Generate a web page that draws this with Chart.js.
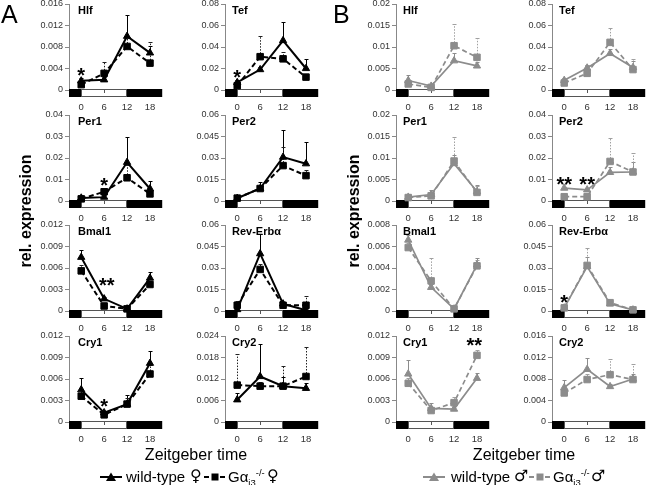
<!DOCTYPE html>
<html><head><meta charset="utf-8">
<script src="https://cdn.jsdelivr.net/npm/chart.js@4"></script>
<style>
body{margin:0;background:#fff;width:650px;height:485px;overflow:hidden;position:relative;font-family:Arial,"Liberation Sans",sans-serif;color:#000}
canvas{position:absolute}
.abs{position:absolute;white-space:nowrap}
</style></head><body>
<script>
// ---------- DATA ----------
const hours = [0, 6, 12, 18];

// Panel A (female) — wild-type vs Gαi3-/-
const hlfA_ticks = [0, 0.004, 0.008, 0.012, 0.016];
const hlfA_wt = [0.0017, 0.0019, 0.0100, 0.0069];
const hlfA_wtErr = [0.0005, 0.0005, 0.0039, 0.0012];
const hlfA_ko = [0.0010, 0.0031, 0.0081, 0.0050];
const hlfA_koErr = [0.0004, 0.0022, 0.0020, 0.0039];
const hlfA_stars = [[0, 0.0036, '*']];

const tefA_ticks = [0, 0.02, 0.04, 0.06, 0.08];
const tefA_wt = [0.007, 0.019, 0.046, 0.020];
const tefA_wtErr = [0.002, 0.002, 0.017, 0.009];
const tefA_ko = [0.004, 0.031, 0.029, 0.012];
const tefA_koErr = [0.002, 0.019, 0.006, 0.003];
const tefA_stars = [[0, 0.0165, '*']];

const per1A_ticks = [0, 0.01, 0.02, 0.03, 0.04];
const per1A_wt = [0.0014, 0.0018, 0.0180, 0.0057];
const per1A_wtErr = [0.0006, 0.0008, 0.0117, 0.0037];
const per1A_ko = [0.0010, 0.0043, 0.0108, 0.0033];
const per1A_koErr = [0.0003, 0.0010, 0.0060, 0.0015];
const per1A_stars = [[6, 0.0095, '*']];

const per2A_ticks = [0, 0.015, 0.03, 0.045, 0.06];
const per2A_wt = [0.0019, 0.0087, 0.0306, 0.0260];
const per2A_wtErr = [0.0008, 0.0045, 0.0189, 0.0150];
const per2A_ko = [0.0020, 0.0087, 0.0247, 0.0177];
const per2A_koErr = [0.0005, 0.0020, 0.0130, 0.0040];
const per2A_stars = [];

const bmal1A_ticks = [0, 0.003, 0.006, 0.009, 0.012];
const bmal1A_wt = [0.0075, 0.0017, 0.0003, 0.0046];
const bmal1A_wtErr = [0.0010, 0.0003, 0.0002, 0.0009];
const bmal1A_ko = [0.0056, 0.0007, 0.0003, 0.0037];
const bmal1A_koErr = [0.0008, 0.0002, 0.0001, 0.0005];
const bmal1A_stars = [[6.7, 0.0042, '**']];

const revA_ticks = [0, 0.015, 0.03, 0.045, 0.06];
const revA_wt = [0.0010, 0.0400, 0.0050, 0.0005];
const revA_wtErr = [0.0010, 0.0135, 0.0010, 0.0005];
const revA_ko = [0.0040, 0.0290, 0.0040, 0.0040];
const revA_koErr = [0.0030, 0.0040, 0.0010, 0.0065];
const revA_stars = [];

const cry1A_ticks = [0, 0.003, 0.006, 0.009, 0.012];
const cry1A_wt = [0.0045, 0.0013, 0.0025, 0.0082];
const cry1A_wtErr = [0.0017, 0.0003, 0.0013, 0.0017];
const cry1A_ko = [0.0036, 0.0010, 0.0025, 0.0067];
const cry1A_koErr = [0.0008, 0.0002, 0.0008, 0.0012];
const cry1A_stars = [[6, 0.0028, '*']];

const cry2A_ticks = [0, 0.006, 0.012, 0.018, 0.024];
const cry2A_wt = [0.0062, 0.0127, 0.0100, 0.0094];
const cry2A_wtErr = [0.0020, 0.0090, 0.0025, 0.0016];
const cry2A_ko = [0.0103, 0.0100, 0.0100, 0.0127];
const cry2A_koErr = [0.0086, 0.0012, 0.0055, 0.0082];
const cry2A_stars = [];

// Panel B (male)
const hlfB_ticks = [0, 0.005, 0.01, 0.015, 0.02];
const hlfB_wt = [0.0022, 0.0009, 0.0068, 0.0056];
const hlfB_wtErr = [0.0012, 0.0003, 0.0019, 0.0008];
const hlfB_ko = [0.0014, 0.0006, 0.0103, 0.0076];
const hlfB_koErr = [0.0008, 0.0003, 0.0051, 0.0044];
const hlfB_stars = [];

const tefB_ticks = [0, 0.02, 0.04, 0.06, 0.08];
const tefB_wt = [0.0090, 0.0205, 0.0340, 0.0210];
const tefB_wtErr = [0.0020, 0.0030, 0.0040, 0.0060];
const tefB_ko = [0.0065, 0.0155, 0.0443, 0.0190];
const tefB_koErr = [0.0020, 0.0075, 0.0130, 0.0100];
const tefB_stars = [];

const per1B_ticks = [0, 0.005, 0.01, 0.015, 0.02];
const per1B_wt = [0.0009, 0.0015, 0.0087, 0.0022];
const per1B_wtErr = [0.0007, 0.0010, 0.0020, 0.0015];
const per1B_ko = [0.0008, 0.0012, 0.0093, 0.0020];
const per1B_koErr = [0.0005, 0.0008, 0.0057, 0.0015];
const per1B_stars = [];

const per2B_ticks = [0, 0.01, 0.02, 0.03, 0.04];
const per2B_wt = [0.0060, 0.0052, 0.0133, 0.0135];
const per2B_wtErr = [0.0018, 0.0010, 0.0027, 0.0045];
const per2B_ko = [0.0020, 0.0020, 0.0184, 0.0135];
const per2B_koErr = [0.0005, 0.0005, 0.0110, 0.0088];
const per2B_stars = [[0, 0.0100, '**'], [6, 0.0100, '**']];

const bmal1B_ticks = [0, 0.002, 0.004, 0.006, 0.008];
const bmal1B_wt = [0.0066, 0.0022, 0.0002, 0.0043];
const bmal1B_wtErr = [0.0005, 0.0003, 0.0001, 0.0006];
const bmal1B_ko = [0.0059, 0.0028, 0.0002, 0.0042];
const bmal1B_koErr = [0.0004, 0.0021, 0.0001, 0.0005];
const bmal1B_stars = [];

const revB_ticks = [0, 0.015, 0.03, 0.045, 0.06];
const revB_wt = [0.0022, 0.0310, 0.0050, 0.0008];
const revB_wtErr = [0.0010, 0.0070, 0.0010, 0.0003];
const revB_ko = [0.0022, 0.0318, 0.0058, 0.0008];
const revB_koErr = [0.0010, 0.0125, 0.0010, 0.0003];
const revB_stars = [[0, 0.0092, '*']];

const cry1B_ticks = [0, 0.003, 0.006, 0.009, 0.012];
const cry1B_wt = [0.0067, 0.0019, 0.0018, 0.0061];
const cry1B_wtErr = [0.0020, 0.0008, 0.0004, 0.0007];
const cry1B_ko = [0.0054, 0.0016, 0.0027, 0.0093];
const cry1B_koErr = [0.0008, 0.0004, 0.0008, 0.0007];
const cry1B_stars = [[17.3, 0.0113, '**']];

const cry2B_ticks = [0, 0.004, 0.008, 0.012, 0.016];
const cry2B_wt = [0.0064, 0.0098, 0.0066, 0.0080];
const cry2B_wtErr = [0.0015, 0.0022, 0.0005, 0.0010];
const cry2B_ko = [0.0054, 0.0079, 0.0088, 0.0079];
const cry2B_koErr = [0.0008, 0.0010, 0.0030, 0.0029];
const cry2B_stars = [];

// ---------- LAYOUT ----------
const FF = 'Arial, "Liberation Sans", sans-serif';
const colX = [69, 225, 396, 552];
const rowZero = [90, 201, 311, 422];
const PW = 95, PH = 86, PADT = 10, PADR = 4, YW = 48, XH = 26;

const panels = [
  {title:'Hlf', g:'A', col:0, row:0, ticks:hlfA_ticks, wt:hlfA_wt, wtErr:hlfA_wtErr, ko:hlfA_ko, koErr:hlfA_koErr, stars:hlfA_stars},
  {title:'Tef', g:'A', col:1, row:0, ticks:tefA_ticks, wt:tefA_wt, wtErr:tefA_wtErr, ko:tefA_ko, koErr:tefA_koErr, stars:tefA_stars},
  {title:'Per1', g:'A', col:0, row:1, ticks:per1A_ticks, wt:per1A_wt, wtErr:per1A_wtErr, ko:per1A_ko, koErr:per1A_koErr, stars:per1A_stars},
  {title:'Per2', g:'A', col:1, row:1, ticks:per2A_ticks, wt:per2A_wt, wtErr:per2A_wtErr, ko:per2A_ko, koErr:per2A_koErr, stars:per2A_stars},
  {title:'Bmal1', g:'A', col:0, row:2, ticks:bmal1A_ticks, wt:bmal1A_wt, wtErr:bmal1A_wtErr, ko:bmal1A_ko, koErr:bmal1A_koErr, stars:bmal1A_stars},
  {title:'Rev-Erbα', g:'A', col:1, row:2, ticks:revA_ticks, wt:revA_wt, wtErr:revA_wtErr, ko:revA_ko, koErr:revA_koErr, stars:revA_stars},
  {title:'Cry1', g:'A', col:0, row:3, ticks:cry1A_ticks, wt:cry1A_wt, wtErr:cry1A_wtErr, ko:cry1A_ko, koErr:cry1A_koErr, stars:cry1A_stars},
  {title:'Cry2', g:'A', col:1, row:3, ticks:cry2A_ticks, wt:cry2A_wt, wtErr:cry2A_wtErr, ko:cry2A_ko, koErr:cry2A_koErr, stars:cry2A_stars},
  {title:'Hlf', g:'B', col:2, row:0, ticks:hlfB_ticks, wt:hlfB_wt, wtErr:hlfB_wtErr, ko:hlfB_ko, koErr:hlfB_koErr, stars:hlfB_stars},
  {title:'Tef', g:'B', col:3, row:0, ticks:tefB_ticks, wt:tefB_wt, wtErr:tefB_wtErr, ko:tefB_ko, koErr:tefB_koErr, stars:tefB_stars},
  {title:'Per1', g:'B', col:2, row:1, ticks:per1B_ticks, wt:per1B_wt, wtErr:per1B_wtErr, ko:per1B_ko, koErr:per1B_koErr, stars:per1B_stars},
  {title:'Per2', g:'B', col:3, row:1, ticks:per2B_ticks, wt:per2B_wt, wtErr:per2B_wtErr, ko:per2B_ko, koErr:per2B_koErr, stars:per2B_stars},
  {title:'Bmal1', g:'B', col:2, row:2, ticks:bmal1B_ticks, wt:bmal1B_wt, wtErr:bmal1B_wtErr, ko:bmal1B_ko, koErr:bmal1B_koErr, stars:bmal1B_stars},
  {title:'Rev-Erbα', g:'B', col:3, row:2, ticks:revB_ticks, wt:revB_wt, wtErr:revB_wtErr, ko:revB_ko, koErr:revB_koErr, stars:revB_stars},
  {title:'Cry1', g:'B', col:2, row:3, ticks:cry1B_ticks, wt:cry1B_wt, wtErr:cry1B_wtErr, ko:cry1B_ko, koErr:cry1B_koErr, stars:cry1B_stars},
  {title:'Cry2', g:'B', col:3, row:3, ticks:cry2B_ticks, wt:cry2B_wt, wtErr:cry2B_wtErr, ko:cry2B_ko, koErr:cry2B_koErr, stars:cry2B_stars}
];

function addDiv(html, css){
  const d = document.createElement('div');
  d.className = 'abs';
  d.innerHTML = html;
  Object.assign(d.style, css);
  document.body.appendChild(d);
  return d;
}

const decoPlugin = {
  id: 'deco',
  beforeDatasetsDraw(chart){
    const {ctx, chartArea, scales} = chart;
    const {left, right, bottom} = chartArea;
    const x = scales.x, y = scales.y;
    const x0 = Math.round(x.getPixelForValue(0));
    const x12 = Math.round(x.getPixelForValue(12));
    const x6 = Math.round(x.getPixelForValue(6));
    ctx.save();
    // light / dark bar
    ctx.fillStyle = '#000';
    ctx.fillRect(left, bottom - 1, x0 - left, 8);
    ctx.fillRect(x12, bottom - 1, right - x12, 8);
    ctx.fillStyle = '#fff';
    ctx.fillRect(x0, bottom - 1, x12 - x0, 8);
    ctx.strokeStyle = '#555';
    ctx.lineWidth = 1;
    ctx.strokeRect(x0 + 0.5, bottom - 0.5, x12 - x0 - 1, 7);
    ctx.beginPath();
    ctx.moveTo(x6 + 0.5, bottom); ctx.lineTo(x6 + 0.5, bottom + 3);
    ctx.stroke();
    // error bars
    chart.data.datasets.forEach(ds => {
      ctx.strokeStyle = ds.errColor;
      ctx.lineWidth = 1;
      ds.data.forEach((p, i) => {
        const e = ds.errs[i];
        const px = Math.round(x.getPixelForValue(p.x)) + 0.5;
        const py0 = y.getPixelForValue(p.y);
        const py1 = Math.round(y.getPixelForValue(p.y + e)) + 0.5;
        ctx.setLineDash(ds.errDash);
        ctx.beginPath(); ctx.moveTo(px, py0); ctx.lineTo(px, py1); ctx.stroke();
        ctx.setLineDash([]);
        ctx.beginPath(); ctx.moveTo(px - 2, py1); ctx.lineTo(px + 2, py1); ctx.stroke();
      });
    });
    ctx.restore();
  },
  afterDatasetsDraw(chart){
    const items = chart.options.plugins.deco.stars || [];
    const {ctx, scales} = chart;
    ctx.save();
    ctx.fillStyle = '#000';
    ctx.font = 'bold 20px ' + FF;
    ctx.textAlign = 'center';
    ctx.textBaseline = 'alphabetic';
    items.forEach(s => {
      const px = scales.x.getPixelForValue(s[0]);
      const py = scales.y.getPixelForValue(s[1]);
      ctx.fillText(s[2], px, py + 0.57 * 20);
    });
    ctx.restore();
  }
};

panels.forEach(p => {
  const c = document.createElement('canvas');
  const w = YW + PW + PADR, h = PADT + PH + XH;
  c.width = w; c.height = h;
  c.style.left = (colX[p.col] - YW) + 'px';
  c.style.top = (rowZero[p.row] - PH - PADT) + 'px';
  c.style.width = w + 'px'; c.style.height = h + 'px';
  document.body.appendChild(c);
  const isA = p.g === 'A';
  const col = isA ? '#000000' : '#8c8c8c';
  const lw = isA ? 2 : 1.7;
  new Chart(c, {
    type: 'line',
    data: {
      datasets: [
        {label: 'wild-type', data: hours.map((hh, i) => ({x: hh, y: p.wt[i]})), errs: p.wtErr, errDash: [], errColor: col,
         borderColor: col, backgroundColor: col, pointBackgroundColor: col, pointBorderColor: col,
         pointStyle: 'triangle', pointRadius: 4.2, pointBorderWidth: 1, borderWidth: lw, clip: false},
        {label: 'Gαi3-/-', data: hours.map((hh, i) => ({x: hh, y: p.ko[i]})), errs: p.koErr, errDash: [1.5, 1.5], errColor: isA ? '#222' : '#a0a0a0',
         borderColor: col, backgroundColor: col, pointBackgroundColor: col, pointBorderColor: col,
         pointStyle: 'rect', pointRadius: 4.6, pointBorderWidth: 1, borderWidth: lw, borderDash: [5, 3], clip: false}
      ]
    },
    options: {
      responsive: false, animation: false, devicePixelRatio: 1,
      layout: {padding: {top: PADT, right: PADR, left: 0, bottom: 0}},
      plugins: {legend: {display: false}, tooltip: {enabled: false}, deco: {stars: p.stars}},
      scales: {
        x: {type: 'linear', min: -3.2, max: 21.2,
            afterBuildTicks: s => { s.ticks = hours.map(v => ({value: v})); },
            afterFit: s => { s.height = XH; },
            grid: {display: false, drawTicks: false}, border: {display: false},
            ticks: {padding: 12, color: '#333', font: {size: 9.5, family: FF}, maxRotation: 0, autoSkip: false}},
        y: {type: 'linear', min: 0, max: p.ticks[p.ticks.length - 1],
            afterBuildTicks: s => { s.ticks = p.ticks.map(v => ({value: v})); },
            afterFit: s => { s.width = YW; },
            grid: {drawOnChartArea: false, drawTicks: true, tickLength: 4, color: '#888'},
            border: {display: true, color: '#888', width: 1},
            ticks: {padding: 2, color: '#333', font: {size: 9, family: FF}, autoSkip: false,
                    callback: v => String(+Number(v).toPrecision(6))}}
      }
    },
    plugins: [decoPlugin]
  });
  addDiv(p.title, {left: (colX[p.col] + (p.col === 0 ? 9 : 7)) + 'px', top: (rowZero[p.row] - PH + 1) + 'px',
    fontSize: '11px', lineHeight: '11px', fontWeight: 'bold'});
});

// Panel letters
addDiv('A', {left: '1px', top: '2px', fontSize: '25px', lineHeight: '25px'});
addDiv('B', {left: '333px', top: '2px', fontSize: '25px', lineHeight: '25px'});

// Axis titles
[26, 354].forEach(cx => addDiv('rel. expression', {left: (cx - 70) + 'px', top: (211 - 9) + 'px', width: '140px', height: '18px',
  lineHeight: '18px', textAlign: 'center', fontSize: '16px', fontWeight: 'bold', transform: 'rotate(-90deg)'}));
[196, 524].forEach(cx => addDiv('Zeitgeber time', {left: (cx - 100) + 'px', top: '447px', width: '200px', textAlign: 'center',
  fontSize: '16px', lineHeight: '16px'}));

// Legends
function wtSym(color){ return '<svg width="22" height="12"><line x1="0" y1="6" x2="22" y2="6" stroke="' + color + '" stroke-width="2"/><polygon points="11,1.5 16,10 6,10" fill="' + color + '"/></svg>'; }
function koSym(color){ return '<svg width="22" height="12"><line x1="0" y1="6" x2="22" y2="6" stroke="' + color + '" stroke-width="2" stroke-dasharray="5,3"/><rect x="7.5" y="2.5" width="7" height="7" fill="' + color + '"/></svg>'; }
const koText = 'Gα<span style="position:relative;font-size:9.5px;top:4px">i3</span><span style="position:relative;font-size:9.5px;top:-6px">-/-</span>';
const sexCss = (left) => ({left: left + 'px', top: '467px', fontSize: '16px', lineHeight: '18px', fontFamily: '"DejaVu Sans", sans-serif'});
const legTxt = (left) => ({left: left + 'px', top: '469px', fontSize: '15px', lineHeight: '16px'});

addDiv(wtSym('#000'), {left: '100px', top: '471px', lineHeight: '12px'});
addDiv('wild-type', legTxt(126));
addDiv('♀', sexCss(190));
addDiv(koSym('#000'), {left: '204px', top: '471px', lineHeight: '12px'});
addDiv(koText, legTxt(228));
addDiv('♀', sexCss(267));

addDiv(wtSym('#8c8c8c'), {left: '423px', top: '471px', lineHeight: '12px'});
addDiv('wild-type', legTxt(451));
addDiv('♂', sexCss(514));
addDiv(koSym('#8c8c8c'), {left: '529px', top: '471px', lineHeight: '12px'});
addDiv(koText, legTxt(553));
addDiv('♂', sexCss(591));
</script>
</body></html>
